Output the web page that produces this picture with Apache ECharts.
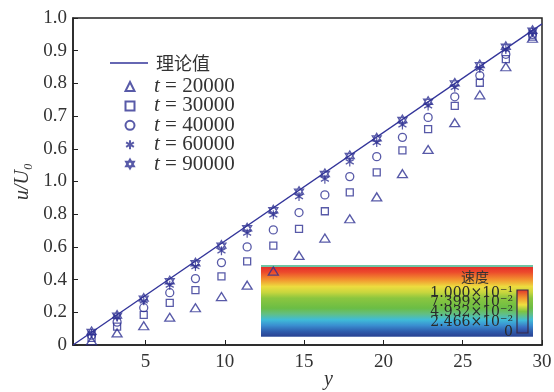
<!DOCTYPE html>
<html><head><meta charset="utf-8">
<script src="https://cdn.jsdelivr.net/npm/echarts@6/dist/echarts.min.js"></script>
<style>html,body{margin:0;padding:0;background:#fff}#c{width:554px;height:392px}</style>
</head><body><div id="c"></div>
<script>
const xs = [1.60,3.21,4.89,6.53,8.15,9.79,11.41,13.06,14.68,16.31,17.88,19.58,21.2,22.82,24.5,26.08,27.72,29.4];
const t20000 = [0.013,0.037,0.059,0.085,0.114,0.148,0.183,0.226,0.274,0.327,0.386,0.453,0.524,0.598,0.68,0.765,0.851,0.938];
const t30000 = [0.022,0.056,0.092,0.129,0.168,0.21,0.256,0.304,0.355,0.409,0.467,0.528,0.595,0.66,0.731,0.802,0.874,0.943];
const t40000 = [0.03,0.07,0.114,0.16,0.203,0.252,0.30,0.352,0.405,0.459,0.515,0.576,0.635,0.696,0.759,0.824,0.889,0.95];
const t60000 = [0.035,0.086,0.135,0.183,0.24,0.288,0.342,0.398,0.454,0.507,0.56,0.619,0.673,0.731,0.788,0.846,0.904,0.956];
const t90000 = [0.04,0.09,0.142,0.195,0.25,0.304,0.357,0.412,0.469,0.523,0.578,0.632,0.688,0.744,0.80,0.856,0.912,0.961];
const theoryX = [0.43, 30];
const theoryY = [0, 0.982];
const times = [20000,30000,40000,60000,90000];
const yTickLabels = ['0','0.2','0.4','0.6','0.8','1.0','0.6','0.7','0.8','0.9','1.0'];
const xTickLabels = ['5','10','15','20','25','30'];
const cbLabels = ['1.000×10⁻¹','7.399×10⁻²','4.932×10⁻²','2.466×10⁻²','0'];
const lineName = '理论值';
const cbTitle = '速度';

const C = '#2e3192';
const serif = "'Liberation Serif','DejaVu Serif',serif";
const symbols = [
  'triangle',
  'rect',
  'circle',
  'path://M0,-1L0,1M-0.866,-0.5L0.866,0.5M-0.866,0.5L0.866,-0.5',
  'path://M0,-1L0.866,0.5L-0.866,0.5ZM0,1L0.866,-0.5L-0.866,-0.5Z'
];
const sizes = [[10,8],7,8,[8,9],[9,10]];
const seriesVals = [t20000,t30000,t40000,t60000,t90000];
const names = times.map(t => 't = ' + t);

const scatter = seriesVals.map((vals,i) => ({
  type:'scatter', name:names[i], symbol:symbols[i], symbolSize:sizes[i],
  data: xs.map((x,j)=>[x, vals[j]]),
  itemStyle:{color:'rgba(0,0,0,0)', borderColor:C, borderWidth:1.3},
  z:5
}));

const chart = echarts.init(document.getElementById('c'));
chart.setOption({
  animation:false,
  grid:{left:73,right:12,top:18,bottom:47,outerBoundsMode:'none',containLabel:false,
    show:true,borderColor:'#222',borderWidth:1.5,backgroundColor:'transparent'},
  xAxis:{type:'value',min:0.43,max:30,
    axisLine:{lineStyle:{color:'#222',width:1.5}},
    axisTick:{inside:true,length:5,lineStyle:{color:'#222'}},
    splitLine:{show:false},
    axisLabel:{color:'#333',fontFamily:serif,fontSize:19,margin:8,
      formatter:v=>{const k=Math.round(v/5);return Math.abs(v-5*k)<1e-6 && k>=1 ? xTickLabels[k-1] : '';}},
    name:'y',nameLocation:'middle',nameGap:25,nameMoveOverlap:false,
    nameTextStyle:{fontFamily:serif,fontStyle:'italic',fontSize:20,color:'#333',padding:[0,0,0,42]}
  },
  yAxis:{type:'value',min:0,max:1,interval:0.1,
    axisLine:{lineStyle:{color:'#222',width:1.5}},
    axisTick:{inside:true,length:5,lineStyle:{color:'#222'}},
    splitLine:{show:false},
    axisLabel:{color:'#333',fontFamily:serif,fontSize:19,margin:6,
      formatter:v=>yTickLabels[Math.round(v*10)]},
    name:'u/U₀',nameLocation:'middle',nameGap:40,
    nameTextStyle:{fontFamily:serif,fontStyle:'italic',fontSize:20,color:'#333',padding:[0,0,0,0]}
  },
  legend:[
    {data:[{name:lineName,icon:'rect',itemStyle:{color:'#33359a'}}],left:110,top:54,orient:'vertical',padding:0,
     itemWidth:38,itemHeight:1.4,
     textStyle:{fontFamily:"'Noto Sans CJK SC',sans-serif",fontSize:18,lineHeight:18,color:'#333',padding:[0,0,0,3]}},
    {data:names,left:124.5,top:76,orient:'vertical',padding:0,itemWidth:9,itemHeight:9,itemGap:-1.6,
     textStyle:{fontFamily:serif,fontSize:21,lineHeight:16,color:'#333',padding:[0,0,0,14.5],
       rich:{i:{fontFamily:serif,fontStyle:'italic',fontSize:21,lineHeight:16,color:'#333'}}},
     formatter:n=>'{i|t} = '+n.split('= ')[1]}
  ],
  graphic:[
    {type:'rect',z:0,shape:{x:261,y:265,width:272,height:72},
     style:{fill:new echarts.graphic.LinearGradient(0,0,0,1,[
       {offset:0,color:'#6fc4a4'},{offset:0.025,color:'#6fc4a4'},{offset:0.03,color:'#e5302a'},
       {offset:0.1,color:'#ec4a2c'},{offset:0.2,color:'#f2902f'},{offset:0.3,color:'#eddc3f'},
       {offset:0.38,color:'#c8d63e'},{offset:0.46,color:'#8cc63f'},{offset:0.6,color:'#6bbd45'},
       {offset:0.68,color:'#62bf84'},{offset:0.76,color:'#3fbcd8'},{offset:0.84,color:'#3a8ed0'},
       {offset:0.92,color:'#2f5eae'},{offset:0.985,color:'#2b4596'},{offset:1,color:'#8fa5cc'}])}},
    {type:'rect',z:1,shape:{x:517,y:290,width:11,height:43},
     style:{stroke:'#3a2a4a',lineWidth:1.2,fill:new echarts.graphic.LinearGradient(0,0,0,1,[
       {offset:0,color:'#e03028'},{offset:0.2,color:'#f29a30'},{offset:0.35,color:'#eee040'},
       {offset:0.5,color:'#80c440'},{offset:0.7,color:'#40bcd8'},{offset:0.85,color:'#3a70c4'},{offset:1,color:'#2a3c90'}])}},
    {type:'text',z:1,style:{x:475,y:277,text:cbTitle,align:'center',verticalAlign:'middle',
      font:"14px 'Noto Sans CJK SC',sans-serif",fill:'#333'}},
    ...cbLabels.map((s,i)=>({type:'text',z:1,style:{x:513,y:293+i*9.8,text:s,align:'right',verticalAlign:'middle',
      font:"14px 'DejaVu Serif',serif",fill:'#2a2a2a'}}))
  ],
  series:[
    {type:'line',name:lineName,data:theoryX.map((x,i)=>[x,theoryY[i]]),symbol:'none',
     lineStyle:{color:'#33359a',width:1.3},itemStyle:{color:'#33359a'},z:4},
    ...scatter
  ]
});
</script></body></html>
